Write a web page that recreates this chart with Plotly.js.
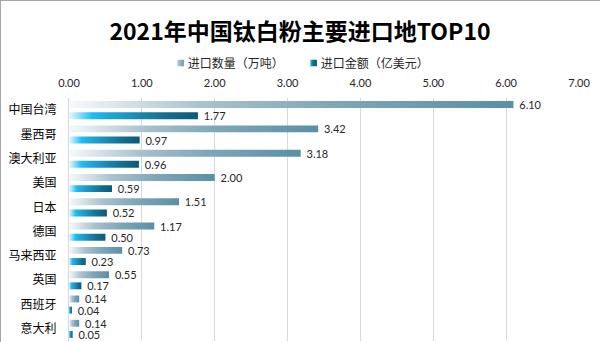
<!DOCTYPE html>
<html>
<head>
<meta charset="utf-8">
<script src="https://cdn.plot.ly/plotly-3.0.1.min.js"></script>
<style>
  html, body { margin: 0; padding: 0; background: #fff; }
  #wrap { position: relative; width: 600px; height: 342px; overflow: hidden; }
  #chart { position: absolute; left: 0; top: 0; width: 600px; height: 342px; }
  #frame { position: absolute; left: 0; top: 0; width: 600px; height: 342px; box-sizing: border-box;
           border-top: 1px solid #a6a6a6; border-left: 1px solid #a6a6a6; pointer-events: none; }
</style>
</head>
<body>
<div id="wrap"><div id="chart"></div><div id="frame"></div></div>
<script>
const categories = ["中国台湾", "墨西哥", "澳大利亚", "美国", "日本", "德国", "马来西亚", "英国", "西班牙", "意大利"];
const quantity = [6.10, 3.42, 3.18, 2.00, 1.51, 1.17, 0.73, 0.55, 0.14, 0.14];
const amount = [1.77, 0.97, 0.96, 0.59, 0.52, 0.50, 0.23, 0.17, 0.04, 0.05];
const seriesNames = ["进口数量（万吨）", "进口金额（亿美元）"];
const xTicks = [0, 1, 2, 3, 4, 5, 6, 7];

const numFont = "Lato, 'Noto Sans CJK SC', sans-serif";
const cjkFont = "'Noto Sans CJK SC', sans-serif";

const traces = [
  {
    type: "bar", orientation: "h", name: seriesNames[0],
    y: categories, x: quantity,
    marker: { color: "#6a9bb0" },
    text: quantity.map(v => "\u00a0" + v.toFixed(2)),
    textposition: "outside", cliponaxis: false, constraintext: "none",
    textfont: { family: numFont, size: 11, color: "#262626" },
    hoverinfo: "x+y"
  },
  {
    type: "bar", orientation: "h", name: seriesNames[1],
    y: categories, x: amount,
    marker: { color: "#146e8f" },
    text: amount.map(v => "\u00a0" + v.toFixed(2)),
    textposition: "outside", cliponaxis: false, constraintext: "none",
    textfont: { family: numFont, size: 11, color: "#262626" },
    hoverinfo: "x+y"
  }
];

const layout = {
  width: 600, height: 342,
  margin: { l: 69, r: 21, t: 98, b: 1 },
  paper_bgcolor: "#ffffff", plot_bgcolor: "#ffffff",
  title: {
    text: "2021年中国钛白粉主要进口地TOP10",
    font: { family: cjkFont, size: 23, color: "#000000", weight: "bold" },
    x: 0.5, xanchor: "center", y: 1 - 32 / 342, yanchor: "middle", yref: "container"
  },
  barmode: "group", bargap: 0.08, bargroupgap: 0.38,
  showlegend: true,
  legend: {
    orientation: "h", x: 0.5, xanchor: "center", xref: "container",
    y: 1 - 63 / 342, yanchor: "middle", yref: "container",
    font: { family: cjkFont, size: 12, color: "#262626" },
    itemclick: false, itemdoubleclick: false, traceorder: "normal"
  },
  xaxis: {
    side: "top", range: [0, 7], tickvals: xTicks, tickformat: ".2f",
    showgrid: true, gridcolor: "#d9d9d9", gridwidth: 1, zeroline: false,
    showline: false, ticks: "", ticklabelstandoff: 8,
    tickfont: { family: numFont, size: 11, color: "#262626" }, fixedrange: true
  },
  yaxis: {
    type: "category", autorange: "reversed",
    showgrid: false, zeroline: false, showline: true, linecolor: "#d9d9d9", linewidth: 1,
    ticks: "", ticklabelstandoff: 9,
    tickfont: { family: cjkFont, size: 12, color: "#000000" }, fixedrange: true
  }
};

function parseTranslate(s) {
  const m = /translate\(\s*([-\d.e]+)[ ,]+([-\d.e]+)\s*\)/.exec(s || "");
  return m ? [parseFloat(m[1]), parseFloat(m[2])] : [0, 0];
}

function addGradients(gd) {
  const svg = gd.querySelector("svg.main-svg");
  const ns = "http://www.w3.org/2000/svg";
  let defs = svg.querySelector("defs");
  if (!defs) { defs = document.createElementNS(ns, "defs"); svg.insertBefore(defs, svg.firstChild); }
  const grads = {
    gq: [[0, "#f7f9fb"], [0.3, "#a9c2ce"], [0.6, "#7ea6b8"], [1, "#5a8fa6"]],
    ga: [[0, "#e9f8fe"], [0.18, "#1cbdf2"], [0.3, "#22a8d8"], [0.75, "#146e8f"], [1, "#0b5a79"]],
    lq: [[0, "#b9ccd6"], [1, "#6c9bb0"]],
    la: [[0, "#1cbdf2"], [0.4, "#146e8f"], [1, "#0b5a79"]]
  };
  Object.keys(grads).forEach(id => {
    const lg = document.createElementNS(ns, "linearGradient");
    lg.setAttribute("id", id);
    lg.setAttribute("x1", "0"); lg.setAttribute("y1", "0");
    lg.setAttribute("x2", "1"); lg.setAttribute("y2", "0");
    grads[id].forEach(([o, c]) => {
      const s = document.createElementNS(ns, "stop");
      s.setAttribute("offset", o); s.setAttribute("stop-color", c);
      lg.appendChild(s);
    });
    defs.appendChild(lg);
  });
  const ids = ["gq", "ga"];
  gd.querySelectorAll("g.barlayer g.trace.bars").forEach((t, i) => {
    t.querySelectorAll("g.point path").forEach(p => { p.style.fill = "url(#" + ids[i] + ")"; });
  });

  // Legend: small square icons close to their text, compact spacing, centred
  const lids = ["lq", "la"];
  const items = Array.from(gd.querySelectorAll("g.legend g.traces"));
  items.forEach((t, i) => {
    const lp = t.querySelector(".legendpoints");
    if (lp) lp.setAttribute("transform", "translate(33,0)");
    t.querySelectorAll(".legendpoints path").forEach(p => {
      p.style.fill = "url(#" + lids[i] + ")";
      p.setAttribute("transform", "scale(0.55)");
    });
  });
  if (items.length === 2) {
    const t0 = parseTranslate(items[0].getAttribute("transform"));
    const t1 = parseTranslate(items[1].getAttribute("transform"));
    const w0 = items[0].querySelector("text.legendtext").getBBox().width;
    items[1].setAttribute("transform", "translate(" + (t0[0] + w0 + 37) + "," + t1[1] + ")");
    // centre the visible content around the reference centre
    const r0 = items[0].querySelector(".legendpoints path").getBoundingClientRect();
    const r1 = items[1].querySelector("text.legendtext").getBoundingClientRect();
    const svgRect = svg.getBoundingClientRect();
    const mid = (r0.left + r1.right) / 2 - svgRect.left;
    const legend = gd.querySelector("g.legend");
    const lt = parseTranslate(legend.getAttribute("transform"));
    legend.setAttribute("transform", "translate(" + (lt[0] + (303 - mid)) + "," + lt[1] + ")");
  }
}

Plotly.newPlot("chart", traces, layout, { displayModeBar: false, staticPlot: true }).then(addGradients);
</script>
</body>
</html>
